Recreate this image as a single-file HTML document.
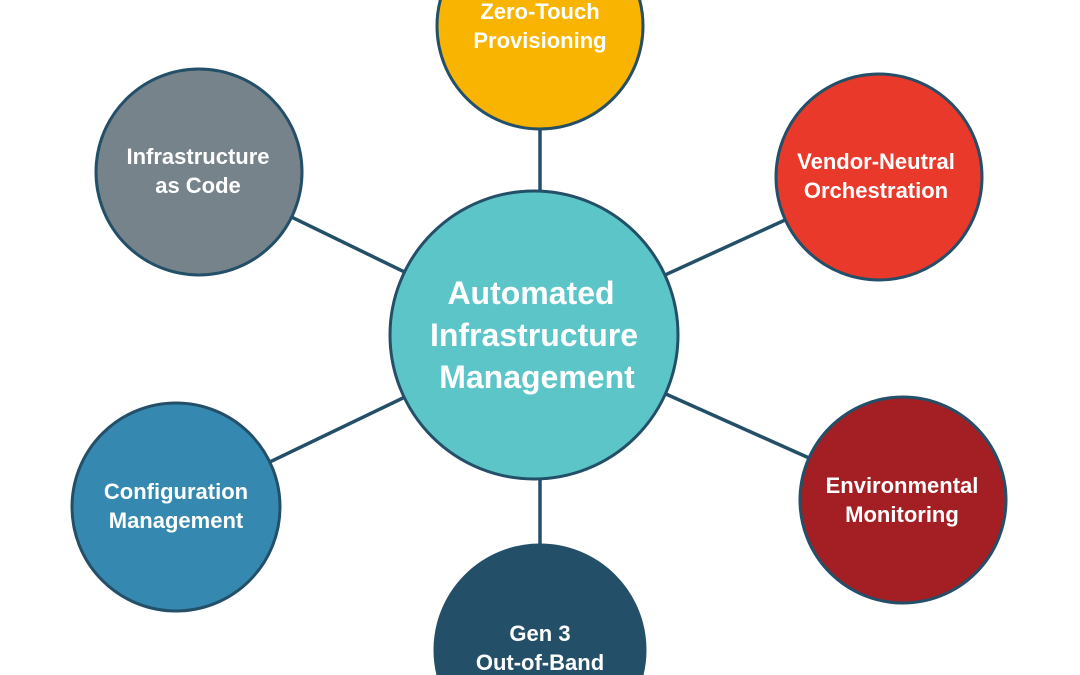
<!DOCTYPE html>
<html><head><meta charset="utf-8"><style>
html,body{margin:0;padding:0;background:#fff;width:1080px;height:675px;overflow:hidden}
svg{display:block}
text{font-family:"Liberation Sans","DejaVu Sans",sans-serif;font-weight:bold;fill:#fff;text-anchor:middle}
</style></head><body>
<svg width="1080" height="675" viewBox="0 0 1080 675" xmlns="http://www.w3.org/2000/svg">
<g stroke="#234f68" stroke-width="3.5">
<line x1="540" y1="200" x2="540" y2="28"/>
<line x1="534" y1="335" x2="879" y2="177"/>
<line x1="534" y1="335" x2="903" y2="500"/>
<line x1="540" y1="470" x2="540" y2="650"/>
<line x1="534" y1="335" x2="176" y2="507"/>
<line x1="534" y1="335" x2="199" y2="172"/>
</g>
<g stroke="#234f68" stroke-width="3">
<circle cx="540" cy="26" r="103" fill="#f8b400"/>
<circle cx="879" cy="177" r="103" fill="#e8392a"/>
<circle cx="903" cy="500" r="103" fill="#a31f24"/>
<circle cx="540" cy="650" r="105" fill="#234f68"/>
<circle cx="176" cy="507" r="104" fill="#3589b0"/>
<circle cx="199" cy="172" r="103" fill="#76838b"/>
<circle cx="534" cy="335" r="144" fill="#5cc5c8"/>
</g>
<g font-size="22">
<text x="540" y="19">Zero-Touch</text>
<text x="540" y="48">Provisioning</text>
<text x="876" y="169">Vendor-Neutral</text>
<text x="876" y="198">Orchestration</text>
<text x="902" y="493">Environmental</text>
<text x="902" y="522">Monitoring</text>
<text x="540" y="641">Gen 3</text>
<text x="540" y="670">Out-of-Band</text>
<text x="176" y="499">Configuration</text>
<text x="176" y="528">Management</text>
<text x="198" y="164">Infrastructure</text>
<text x="198" y="193">as Code</text>
</g>
<g font-size="32">
<text x="531" y="304">Automated</text>
<text x="534" y="346">Infrastructure</text>
<text x="537" y="388">Management</text>
</g>
</svg>
</body></html>
